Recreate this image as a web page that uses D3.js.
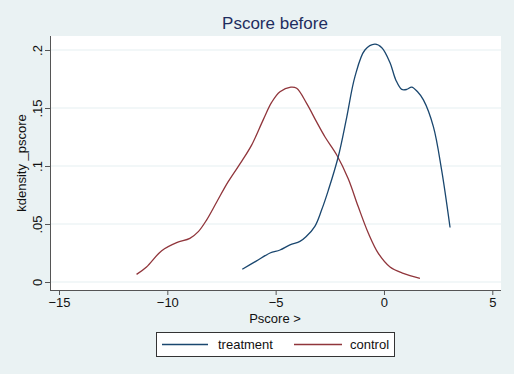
<!DOCTYPE html>
<meta charset="utf-8">
<script src="https://d3js.org/d3.v7.min.js"></script>
<style>
  body { margin: 0; background: #eaf2f3; }
  text { font-family: "Liberation Sans", Arial, sans-serif; }
</style>
<div id="chart"></div>
<script>
  // kernel density estimates
  const treatX = [-6.54, -5.9, -5.26, -4.8, -4.34, -3.88, -3.6, -3.19, -2.88, -2.57, -2.11, -1.72, -1.34, -0.88, -0.42, -0.1, 0.28, 0.55, 0.82, 1.05, 1.28, 1.55, 1.82, 2.28, 2.66, 3.05];
  const treatY = [0.011, 0.018, 0.025, 0.0276, 0.032, 0.035, 0.039, 0.048, 0.062, 0.079, 0.108, 0.142, 0.177, 0.2, 0.205, 0.202, 0.189, 0.174, 0.166, 0.166, 0.168, 0.164, 0.157, 0.134, 0.0966, 0.047];
  const ctrlX = [-11.42, -10.96, -10.26, -9.57, -8.96, -8.57, -8.19, -7.72, -7.19, -6.57, -6.11, -5.57, -5.18, -4.8, -4.3, -4.03, -3.57, -3.11, -2.72, -2.18, -1.65, -1.19, -0.72, -0.26, 0.28, 0.89, 1.66];
  const ctrlY = [0.0066, 0.013, 0.027, 0.034, 0.0376, 0.0434, 0.0534, 0.069, 0.0865, 0.104, 0.118, 0.14, 0.155, 0.164, 0.168, 0.167, 0.154, 0.138, 0.125, 0.1095, 0.089, 0.065, 0.042, 0.0247, 0.013, 0.0075, 0.0032];
  const xTicks = [-15, -10, -5, 0, 5];
  const yTicks = [0, 0.05, 0.1, 0.15, 0.2];
  const yTickLabels = ["0", ".05", ".1", ".15", ".2"];

  const W = 514, H = 374;
  const plot = { left: 50, right: 501, top: 36, bottom: 290 };

  const svg = d3.select("#chart").append("svg")
    .attr("width", W).attr("height", H);

  svg.append("rect").attr("width", W).attr("height", H).attr("fill", "#eaf2f3");
  svg.append("rect")
    .attr("x", plot.left).attr("y", plot.top)
    .attr("width", plot.right - plot.left).attr("height", plot.bottom - plot.top)
    .attr("fill", "#ffffff");

  const x = d3.scaleLinear().domain([-15, 5]).range([59, 492.3]);
  const y = d3.scaleLinear().domain([0, 0.2]).range([282, 50]);

  // grid
  svg.append("g").selectAll("line")
    .data(yTicks)
    .join("line")
    .attr("x1", plot.left).attr("x2", plot.right)
    .attr("y1", d => y(d)).attr("y2", d => y(d))
    .attr("stroke", "#e6eff1").attr("stroke-width", 1.2);

  // axes
  const xAxis = svg.append("g")
    .attr("transform", `translate(0, ${plot.bottom})`)
    .call(d3.axisBottom(x).tickValues(xTicks).tickSize(5).tickPadding(3).tickSizeOuter(0));
  xAxis.select(".domain").attr("d", `M${plot.left},0.5H${plot.right}`);
  const yAxis = svg.append("g")
    .attr("transform", `translate(${plot.left}, 0)`)
    .call(d3.axisLeft(y).tickValues(yTicks).tickFormat((d, i) => yTickLabels[i]).tickSize(5).tickSizeOuter(0));
  yAxis.select(".domain").attr("d", `M0.5,${plot.top}V${plot.bottom}`);
  [xAxis, yAxis].forEach(a => {
    a.selectAll("path, line").attr("stroke", "#555");
    a.selectAll("text").attr("fill", "#111").style("font-size", "13px")
      .style("font-family", '"Liberation Sans", Arial, sans-serif');
  });
  yAxis.selectAll(".tick text")
    .attr("x", null)
    .attr("text-anchor", "middle")
    .attr("transform", "translate(-8,0) rotate(-90)")
    .attr("dy", "0em");

  // curves
  const line = d3.line().x(d => x(d[0])).y(d => y(d[1])).curve(d3.curveCatmullRom);
  svg.append("path")
    .datum(d3.zip(ctrlX, ctrlY))
    .attr("d", line).attr("fill", "none")
    .attr("stroke", "#90353b").attr("stroke-width", 1.3);
  svg.append("path")
    .datum(d3.zip(treatX, treatY))
    .attr("d", line).attr("fill", "none")
    .attr("stroke", "#1a476f").attr("stroke-width", 1.3);

  // titles
  svg.append("text").attr("x", 275).attr("y", 29)
    .attr("text-anchor", "middle").attr("fill", "#1e2d5f")
    .style("font-size", "17px").text("Pscore before");
  svg.append("text").attr("x", 275).attr("y", 323)
    .attr("text-anchor", "middle").attr("fill", "#111")
    .style("font-size", "13px").text("Pscore >");
  svg.append("text")
    .attr("transform", "translate(26,163) rotate(-90)")
    .attr("text-anchor", "middle").attr("fill", "#111")
    .style("font-size", "13px").text("kdensity _pscore");

  // legend
  const leg = svg.append("g");
  leg.append("rect").attr("x", 156.5).attr("y", 332.5).attr("width", 238).attr("height", 24)
    .attr("fill", "#fff").attr("stroke", "#333");
  const items = [
    { name: "treatment", color: "#1a476f", x0: 162, x1: 208, tx: 218 },
    { name: "control", color: "#90353b", x0: 294, x1: 342, tx: 350 }
  ];
  items.forEach(it => {
    leg.append("line").attr("x1", it.x0).attr("x2", it.x1).attr("y1", 344.5).attr("y2", 344.5)
      .attr("stroke", it.color).attr("stroke-width", 1.3);
    leg.append("text").attr("x", it.tx).attr("y", 349).attr("fill", "#111")
      .style("font-size", "13px").text(it.name);
  });
</script>
